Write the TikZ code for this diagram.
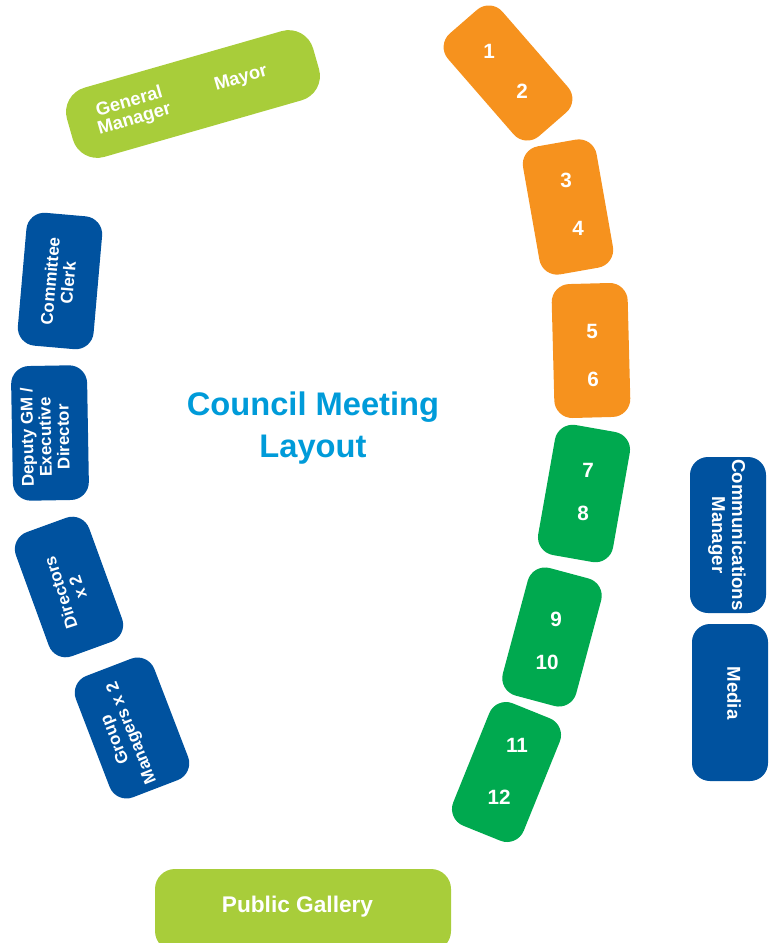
\documentclass[tikz,border=0pt]{standalone}
\usepackage{fontspec}
\setmainfont{Liberation Sans}
\definecolor{seatorange}{HTML}{F6921E}
\definecolor{seatgreen}{HTML}{00A94F}
\definecolor{lightgreen}{HTML}{A8CD3A}
\definecolor{staffblue}{HTML}{00529F}
\definecolor{titleblue}{HTML}{009BD9}
\begin{document}
\begin{tikzpicture}[x=0.75pt,y=-0.75pt]
\tikzset{
  seat/.style={rounded corners=13.5pt, minimum width=57pt, minimum height=99pt, inner sep=0pt, draw=none},
  lbl/.style={text=white, font=\bfseries\fontsize{12.75}{13.5}\selectfont, align=center, inner sep=0pt},
  num/.style={text=white, font=\bfseries\fontsize{15.5}{16}\selectfont, inner sep=0pt},
}
\useasboundingbox (0,0) rectangle (774,943);

% councillor seats
\node[seat, fill=seatorange, rotate=41, minimum width=54pt, minimum height=102pt] (s12) at (508,73) {};
\node[seat, fill=seatorange, rotate=10, minimum width=56pt, minimum height=97.5pt] (s34) at (568,207) {};
\node[seat, fill=seatorange, rotate=1.5, minimum width=57pt, minimum height=100.5pt] (s56) at (591,350.5) {};
\node[seat, fill=seatgreen, rotate=-10, minimum width=57pt, minimum height=99pt] (s78) at (584,493.5) {};
\node[seat, fill=seatgreen, rotate=-15, minimum width=57pt, minimum height=99pt] (s910) at (552,637) {};
\node[seat, fill=seatgreen, rotate=-22, minimum width=57pt, minimum height=99pt] (s1112) at (506.5,772) {};

\node[num] (n1) at (489,51) {1};
\node[num] (n2) at (522,91) {2};
\node[num] (n3) at (566,180) {3};
\node[num] (n4) at (578,228) {4};
\node[num] (n5) at (592,331) {5};
\node[num] (n6) at (593,379) {6};
\node[num] (n7) at (588,470) {7};
\node[num] (n8) at (583,513) {8};
\node[num] (n9) at (556,619) {9};
\node[num] (n10) at (547,662) {10};
\node[num] (n11) at (517,745) {11};
\node[num] (n12) at (499,797) {12};

% General Manager / Mayor
\node[fill=lightgreen, rounded corners=19pt, rotate=16, minimum width=192pt, minimum height=54pt, inner sep=0pt] (gm) at (193,94) {};
\node[lbl, rotate=16, font=\bfseries\fontsize{13.75}{13.75}\selectfont] (gmt) at (132,111) {General\\Manager};
\node[lbl, rotate=16, font=\bfseries\fontsize{13.75}{13.75}\selectfont] (mayor) at (241,79) {Mayor};

% staff (left)
\node[seat, fill=staffblue, rotate=-5, minimum height=100pt] (cc) at (60,281) {};
\node[lbl, rotate=85] (cct) at (59,282) {Committee\\Clerk};
\node[seat, fill=staffblue, rotate=1, minimum height=101pt] (dgm) at (50,433) {};
\node[lbl, rotate=91] (dgmt) at (45,437) {Deputy GM /\\Executive\\Director};
\node[seat, fill=staffblue, rotate=20, minimum width=58.5pt] (dir) at (69,587) {};
\node[lbl, rotate=108] (dirt) at (69,590) {Directors\\x 2};
\node[seat, fill=staffblue, rotate=21, minimum width=63pt, minimum height=97.5pt] (grp) at (132,728) {};
\node[lbl, rotate=112] (grpt) at (124,736) {Group\\Managers x 2};

% staff (right)
\node[seat, fill=staffblue, minimum width=57pt, minimum height=117pt] (com) at (728,535) {};
\node[lbl, rotate=-90, font=\bfseries\fontsize{14}{15}\selectfont] (comt) at (727,535) {Communications\\Manager};
\node[seat, fill=staffblue, minimum width=57pt, minimum height=117.75pt] (med) at (730,702.5) {};
\node[lbl, rotate=-90, font=\bfseries\fontsize{14}{15}\selectfont] (medt) at (734,693) {Media};

% title
\node[text=titleblue, font=\bfseries\fontsize{24.5}{31.5}\selectfont, align=center, inner sep=0pt] (title) at (313,428) {Council Meeting\\Layout};

% public gallery
\node[fill=lightgreen, rounded corners=15pt, minimum width=222pt, minimum height=61.5pt, inner sep=0pt] (pg) at (303,910) {};
\node[text=white, font=\bfseries\fontsize{17}{20}\selectfont, inner sep=0pt] (pgt) at (297.5,907) {Public Gallery};
\end{tikzpicture}
\end{document}
